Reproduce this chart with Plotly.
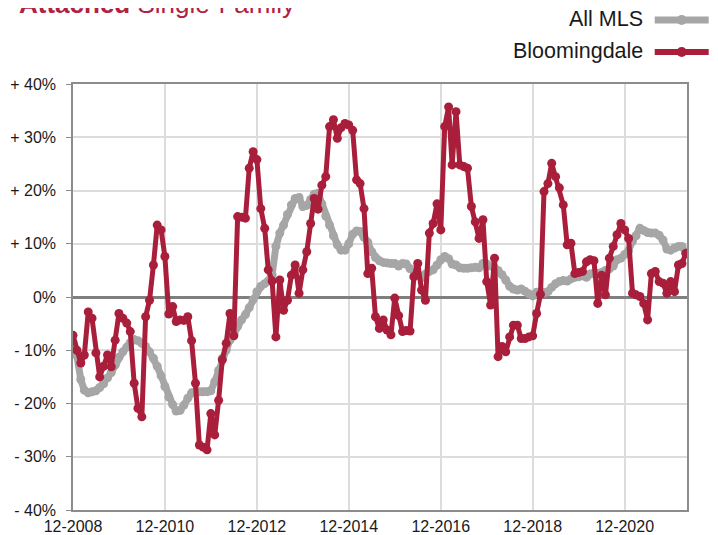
import pandas as pd
import plotly.graph_objects as go

# Monthly categories: 12-2008 .. 04-2022
months = pd.date_range("2008-12-01", periods=161, freq="MS")

all_mls = [
    -8.5, -11, -15.5, -17.5, -18, -17.8, -17.6, -17, -16.3, -15.2, -14.2, -12.8,
    -11.3, -10.3, -9.4, -8.6, -8, -8.2, -8.7, -9.3, -10.3, -11.5, -13, -14.8,
    -16.8, -18.8, -20.2, -21.4, -21.3, -20.3, -19, -18, -17.8, -17.8, -17.8, -17.8,
    -17.6, -15.9, -13.8, -11.5, -10, -8.1, -7, -5.5, -4.3, -3.3, -2, -0.5,
    1, 2, 2.5, 3, 4.2, 9.5, 12, 13.5, 15.5, 17.3, 18.5, 18.7,
    17, 17.2, 18.3, 19.3, 19.5, 17.5, 15.2, 13.5, 11.5, 9.8, 8.8, 8.8,
    10, 11.8, 12.4, 12.3, 11.2, 10.3, 8.5, 7.4, 6.8, 6.5, 6.4, 6.3,
    6.3, 5.8, 6.3, 6.2, 5.3, 5, 4.2, 3.6, 4.3, 4.8, 5.1, 6,
    7, 7.6, 7.2, 6.2, 6, 5.5, 5.4, 5.4, 5.5, 5.6, 5.5, 6.3,
    6.2, 5.8, 5.5, 5, 4.2, 3.2, 2, 1.5, 1.3, 1.5, 1.1, 0.6,
    0.2, 0.9, 1, 0.8, 1, 1.8, 2.5, 2.9, 3.1, 3, 3.4, 3.7,
    3.8, 4, 3.7, 4.3, 4.5, 4.4, 4.6, 5, 5.3, 5.8, 7, 7.3,
    8, 8.7, 10.5, 11.5, 12.9, 12.5, 12.1, 12, 12, 11.6, 10.7, 9,
    8.8, 9.2, 9.5, 9.5, 8.2,
]

bloomingdale = [
    -7.2, -10, -12.4, -10.9, -2.8, -4, -10.5, -15, -13, -10.9, -13.1, -8.1,
    -3.1, -4, -4.9, -6.5, -16.2, -20.9, -22.5, -3.7, -0.6, 6, 13.5, 12.6,
    7.6, -3.2, -1.8, -4.6, -4.3, -4.4, -3.7, -8.2, -16.2, -27.8, -28.2, -28.7,
    -21.9, -25.9, -19.4, -11.8, -8.7, -3.1, -7.3, 15.1, 15, 14.8, 24.2, 27.3,
    25.8, 16.6, 12.9, 5.1, 3, -7.5, 3.2, -2.5, -0.6, 4.1, 6, 0.7,
    5.1, 8.5, 13.8, 18.5, 16.5, 21, 22.6, 32, 33.3, 29.8, 31.8, 32.6,
    32.3, 31.3, 22, 21.3, 16.6, 4.4, 5.4, -3.7, -5.9, -4.3, -6.2, -7.1,
    -0.2, -3.5, -6.5, -6.3, -6.4, 3.8, 6.3, 1.3, -0.6, 12, 13.8, 17.5,
    12.6, 32, 35.7, 24.8, 34.8, 24.8, 24.5, 24.2, 17, 14.1, 11, 14.5,
    2.9, -1.5, 7.3, -11.2, -9.3, -10.3, -7.5, -5.3, -5.3, -7.8, -7.8, -7.5,
    -7.3, -3.1, 0.5, 19.8, 21.3, 25.1, 22.6, 20.5, 17.3, 9.8, 10.1, 4.4,
    4.6, 4.8, 6.6, 7, 6.8, -1.2, 4.1, 0.4, 7.3, 9.5, 11.7, 13.8,
    12.6, 11, 0.7, 0.4, 0.1, -1.2, -4.3, 4.4, 4.8, 2.9, 2.6, 0.7,
    2.9, 1, 6, 6.3, 8.2,
]

x_tick_vals = ["2008-12-01", "2010-12-01", "2012-12-01", "2014-12-01",
               "2016-12-01", "2018-12-01", "2020-12-01"]
x_tick_text = ["12-2008", "12-2010", "12-2012", "12-2014", "12-2016", "12-2018", "12-2020"]
y_tick_vals = [40, 30, 20, 10, 0, -10, -20, -30, -40]
y_tick_text = ["+ 40%", "+ 30%", "+ 20%", "+ 10%", "0%", "- 10%", "- 20%", "- 30%", "- 40%"]

GREY = "#a6a6a6"
RED = "#a91e3a"
TITLE_RED = "#b0223f"

fig = go.Figure()
fig.add_trace(go.Scatter(
    x=months, y=all_mls, mode="lines+markers", name="All MLS",
    line=dict(color=GREY, width=7), marker=dict(color=GREY, size=9),
    showlegend=False,
))
fig.add_trace(go.Scatter(
    x=months, y=bloomingdale, mode="lines+markers", name="Bloomingdale",
    line=dict(color=RED, width=5), marker=dict(color=RED, size=9),
    showlegend=False,
))

# The page body adds an 8px offset, so figure coords = page coords - 8
OFF = 8
W, H = 710, 527
L, T = 73.3 - OFF, 84 - OFF
R = W - (687.3 - OFF)
B = H - (510 - OFF)
pw, ph = W - L - R, H - T - B

def px(xpage):
    return (xpage - OFF - L) / pw

def py(ypage):
    return 1 + (T - (ypage - OFF)) / ph

# Title (partly cut at the top as in the reference)
fig.add_annotation(
    text="<b>Attached</b> Single-Family", xref="paper", yref="paper",
    x=px(17), y=py(21), xanchor="left", yanchor="bottom", showarrow=False,
    font=dict(family="Liberation Sans, Arial", size=26, color=TITLE_RED),
)

# Custom legend (text left of symbol)
legend_items = [("All MLS", GREY, 7, 19), ("Bloomingdale", RED, 6, 51)]
for label, col, lw, yc in legend_items:
    fig.add_annotation(
        text=label, xref="paper", yref="paper", x=px(645), y=py(yc),
        xanchor="right", yanchor="middle", showarrow=False,
        font=dict(family="Liberation Sans, Arial", size=21.5, color="#1a1a1a"),
    )
    fig.add_shape(type="line", xref="paper", yref="paper",
                  x0=px(655), x1=px(709), y0=py(yc + 1), y1=py(yc + 1),
                  line=dict(color=col, width=lw))
    fig.add_shape(type="circle", xref="paper", yref="paper",
                  x0=px(677), x1=px(687), y0=py(yc + 6), y1=py(yc - 4),
                  fillcolor=col, line=dict(color=col, width=0))

fig.update_layout(
    width=W, height=H,
    margin=dict(l=L, r=R, t=T, b=B, autoexpand=False),
    paper_bgcolor="white", plot_bgcolor="white",
    font=dict(family="Liberation Sans, Arial", size=16, color="#1a1a1a"),
)
fig.update_xaxes(
    type="date", range=["2008-12-01", "2022-04-10"], automargin=False,
    tickvals=x_tick_vals, ticktext=x_tick_text, tickangle=0,
    showgrid=True, gridcolor="#dcdcdc", gridwidth=1.5,
    showline=True, mirror=True, linecolor="#8c8c8c", linewidth=1.5,
    ticks="", tickfont=dict(size=16), ticklabelstandoff=1,
)
fig.update_yaxes(
    range=[-40, 40], tickvals=y_tick_vals, ticktext=y_tick_text, automargin=False,
    showgrid=True, gridcolor="#dcdcdc", gridwidth=1.5,
    zeroline=True, zerolinecolor="#7f7f7f", zerolinewidth=3,
    showline=True, mirror=True, linecolor="#8c8c8c", linewidth=1.5,
    ticks="outside", ticklen=5, tickcolor="#8c8c8c", tickfont=dict(size=16),
    ticklabelstandoff=7,
)

fig.write_html("out.html")
